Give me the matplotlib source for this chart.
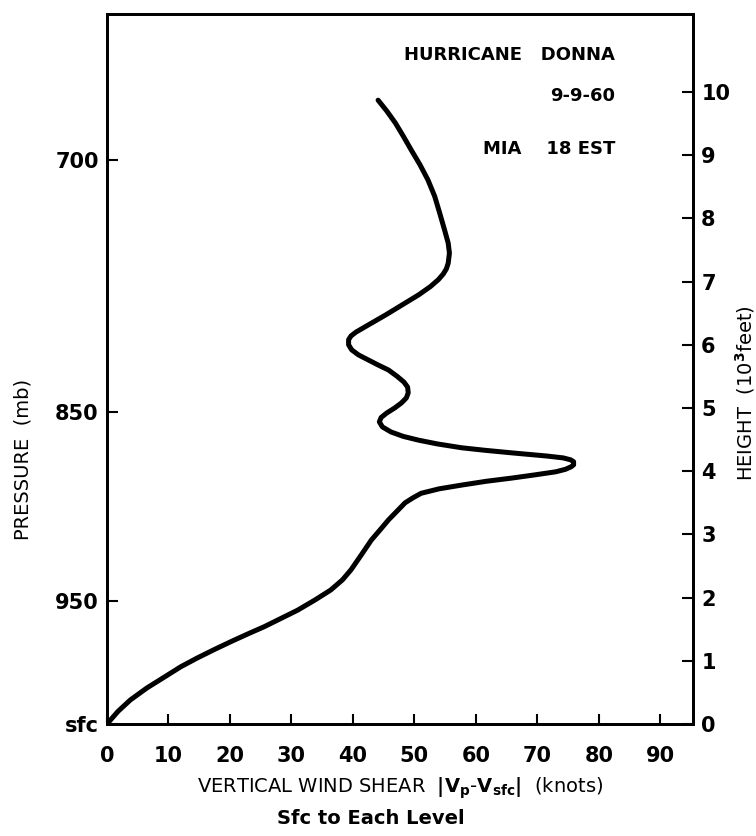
import numpy as np
import matplotlib.pyplot as plt

plt.rc('font', family='DejaVu Sans', weight='bold', size=14)

# profile: height (10^3 ft) and shear (knots)
height = [0.0, 0.20, 0.38, 0.57, 0.74, 0.905, 1.045, 1.175, 1.30, 1.42, 1.54, 1.67, 1.80,
          1.96, 2.12, 2.28, 2.44, 2.68, 2.91, 3.08, 3.23, 3.37, 3.50, 3.58, 3.65, 3.72,
          3.78, 3.84, 3.89, 3.94, 3.99, 4.03, 4.07, 4.10, 4.15, 4.18, 4.21, 4.24, 4.29,
          4.33, 4.37, 4.43, 4.49, 4.55, 4.62, 4.70, 4.78, 4.85, 4.92, 5.00, 5.08, 5.16,
          5.24, 5.33, 5.41, 5.50, 5.60, 5.68, 5.76, 5.84, 5.92, 6.00, 6.08, 6.14, 6.20,
          6.33, 6.47, 6.63, 6.79, 6.92, 7.03, 7.12, 7.20, 7.29, 7.45, 7.61, 7.82, 8.09,
          8.35, 8.61, 8.85, 9.08, 9.30, 9.51, 9.70, 9.87]
shear = [0.0, 1.8, 3.8, 6.5, 9.3, 12.0, 14.7, 17.4, 20.1, 22.8, 25.6, 28.3, 31.0,
         33.8, 36.4, 38.3, 39.7, 41.4, 43.0, 44.5, 45.8, 47.2, 48.5, 49.8, 51.1, 54.0,
         57.7, 61.7, 65.8, 69.5, 73.0, 74.6, 75.5, 75.9, 75.9, 75.4, 74.2, 71.5, 65.8,
         61.5, 57.7, 53.8, 50.7, 48.2, 46.2, 44.8, 44.3, 44.6, 45.5, 46.8, 47.9, 48.7,
         49.0, 48.9, 48.3, 47.2, 45.8, 44.1, 42.5, 40.9, 39.8, 39.3, 39.3, 39.7, 40.5,
         42.8, 45.3, 48.0, 50.7, 52.6, 53.9, 54.7, 55.2, 55.5, 55.7, 55.5, 54.9, 54.1,
         53.3, 52.2, 50.9, 49.5, 48.2, 46.9, 45.5, 44.1]

x_ticks = [0, 10, 20, 30, 40, 50, 60, 70, 80, 90]
h_ticks = [0, 1, 2, 3, 4, 5, 6, 7, 8, 9, 10]
p_labels = ['700', '850', '950', 'sfc']
p_heights = [8.92, 4.94, 1.95, 0.0]

fig = plt.figure(figsize=(7.56, 8.36), dpi=100)
ax = fig.add_axes([0.1415, 0.134, 0.775, 0.849])
ax.plot(shear, height, color='black', linewidth=3.6, solid_capstyle='round',
        solid_joinstyle='round')
ax.set_xlim(0, 95.3)
ax.set_ylim(0, 11.23)

for s in ax.spines.values():
    s.set_linewidth(2)

ax.set_xticks(x_ticks)
ax.set_xticklabels([str(v) for v in x_ticks])
ax.tick_params(axis='x', direction='in', length=7, width=1.5, pad=16, labelsize=15)
ax.set_yticks(p_heights)
ax.set_yticklabels(p_labels)
ax.tick_params(axis='y', direction='in', length=8, width=1.5, pad=6, labelsize=15)

ax2 = ax.twinx()
ax2.set_ylim(0, 11.23)
ax2.set_yticks(h_ticks)
ax2.set_yticklabels([str(v) for v in h_ticks])
ax2.tick_params(axis='y', direction='in', length=8, width=1.5, pad=6, labelsize=15)
for s in ax2.spines.values():
    s.set_linewidth(2)

ax.set_xlabel(r'VERTICAL WIND SHEAR  $|\mathbf{V_p}$-$\mathbf{V_{sfc}}|$  (knots)',
              fontweight='normal', fontsize=14, labelpad=7)
fig.text(0.49, 0.021, 'Sfc to Each Level', ha='center', va='center', fontsize=14)
fig.text(0.03, 0.45, 'PRESSURE  (mb)', rotation=90, ha='center', va='center',
         fontsize=14, fontweight='normal')
fig.text(0.985, 0.53, r'HEIGHT  (10$^{\mathbf{3}}$feet)', rotation=90, ha='center',
         va='center', fontsize=14, fontweight='normal')

ax.text(0.867, 0.942, 'HURRICANE   DONNA', transform=ax.transAxes, ha='right',
        va='center', fontsize=13)
ax.text(0.867, 0.885, '9-9-60', transform=ax.transAxes, ha='right', va='center',
        fontsize=13)
ax.text(0.867, 0.810, 'MIA    18 EST', transform=ax.transAxes, ha='right',
        va='center', fontsize=13)

plt.savefig('out.png', dpi=100)
